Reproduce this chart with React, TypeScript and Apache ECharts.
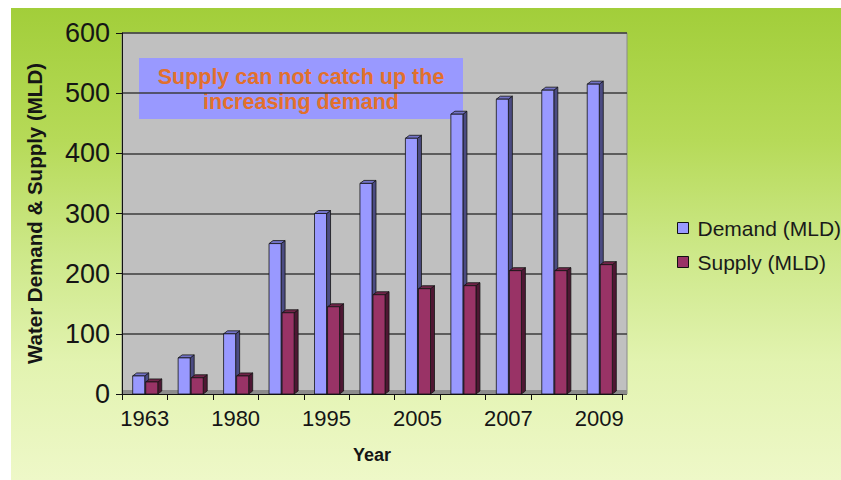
import React, { useEffect, useRef } from "react";
import * as echarts from "echarts";

// Years on the category axis (every other one is labelled)
const years = ["1963", "1971", "1980", "1991", "1995", "2001", "2005", "2006", "2007", "2008", "2009"];
// Water demand and supply, million litres per day
const demand = [30, 60, 100, 250, 300, 350, 425, 465, 490, 505, 515];
const supply = [20, 27, 30, 135, 145, 165, 175, 180, 205, 205, 215];
const yTicks = { min: 0, max: 600, interval: 100 };

const FONT = "'Liberation Sans', Arial, Helvetica, sans-serif";

type BarColors = { front: string; side: string; top: string };
const demandColors: BarColors = { front: "#9999ff", side: "#4b4b82", top: "#7373c8" };
const supplyColors: BarColors = { front: "#993366", side: "#4e1733", top: "#6f2448" };

// Draws a bar with a shaded right side and top face, offset left (0) or right (1) of the category centre.
function bar3d(slot: number, c: BarColors) {
  return (_params: any, api: any) => {
    const idx = api.value(0);
    const val = api.value(1);
    const top = api.coord([idx, val]);
    const base = api.coord([idx, 0]);
    const band = api.size([1, 0])[0];
    const w = band * 0.265;
    const x0 = slot === 0 ? top[0] - w : top[0] + 1;
    const x1 = x0 + w;
    const dx = 4;
    const dy = -3;
    const ty = top[1];
    const by = base[1];
    const stroke = "#141414";
    return {
      type: "group",
      children: [
        {
          type: "polygon",
          shape: { points: [[x1, ty], [x1 + dx, ty + dy], [x1 + dx, by + dy], [x1, by]] },
          style: { fill: c.side, stroke, lineWidth: 0.8 },
        },
        {
          type: "polygon",
          shape: { points: [[x0, ty], [x0 + dx, ty + dy], [x1 + dx, ty + dy], [x1, ty]] },
          style: { fill: c.top, stroke, lineWidth: 0.8 },
        },
        {
          type: "rect",
          shape: { x: x0, y: ty, width: w, height: by - ty },
          style: { fill: c.front, stroke, lineWidth: 0.8 },
        },
      ],
    };
  };
}

export default function App() {
  const ref = useRef<HTMLDivElement>(null);

  useEffect(() => {
    if (!ref.current) return;
    const chart = echarts.init(ref.current, null, { renderer: "svg" });

    chart.setOption({
      animation: false,
      textStyle: { fontFamily: FONT },
      grid: [
        { left: 122, top: 33, width: 500, height: 361, containLabel: false },
        {
          left: 122,
          top: 33,
          width: 505,
          height: 361,
          show: true,
          backgroundColor: "#c0c0c0",
          borderColor: "#8a8a8a",
          borderWidth: 1,
          z: -1,
        },
      ],
      xAxis: [
        {
          type: "category",
          gridIndex: 0,
          data: years,
          boundaryGap: true,
          axisLine: { show: true, lineStyle: { color: "#111", width: 1 } },
          axisTick: { show: true, interval: 0, length: 6, lineStyle: { color: "#111" } },
          axisLabel: { interval: 1, fontSize: 22, color: "#151515", margin: 13, fontFamily: FONT },
          name: "Year",
          nameLocation: "middle",
          nameGap: 52,
          nameTextStyle: { fontSize: 18, fontWeight: "bold", color: "#151515", fontFamily: FONT },
          z: 5,
        },
        { type: "value", gridIndex: 1, show: false, min: 0, max: 1 },
      ],
      yAxis: [
        {
          type: "value",
          gridIndex: 0,
          ...yTicks,
          axisLine: { show: true, lineStyle: { color: "#111", width: 1 } },
          axisTick: { show: true, length: 6, lineStyle: { color: "#111" } },
          axisLabel: { fontSize: 27, color: "#151515", margin: 12, fontFamily: FONT },
          splitLine: { show: false },
          name: "Water Demand & Supply (MLD)",
          nameLocation: "middle",
          nameRotate: 90,
          nameGap: 77,
          nameTextStyle: { fontSize: 20.5, fontWeight: "bold", color: "#151515", fontFamily: FONT },
          z: 5,
        },
        {
          type: "value",
          gridIndex: 1,
          ...yTicks,
          axisLine: { show: false },
          axisTick: { show: false },
          axisLabel: { show: false },
          splitLine: { show: true, lineStyle: { color: "#3c3c3c", width: 1.5 } },
        },
      ],
      legend: {
        orient: "vertical",
        left: 672,
        top: 212,
        icon: "rect",
        itemWidth: 11,
        itemHeight: 11,
        itemGap: 12,
        textStyle: {
          fontSize: 21,
          color: "#1a1a1a",
          fontFamily: FONT,
          lineHeight: 22,
          padding: [0, 0, 0, 4],
        },
        itemStyle: { borderColor: "#111", borderWidth: 1 },
        data: [
          { name: "Demand (MLD)", itemStyle: { color: demandColors.front } },
          { name: "Supply (MLD)", itemStyle: { color: supplyColors.front } },
        ],
      },
      graphic: [
        {
          type: "rect",
          z: 1,
          shape: { x: 122, y: 390, width: 505, height: 4 },
          style: { fill: "#8c8c8c" },
          silent: true,
        },
        {
          type: "group",
          z: 20,
          children: [
            {
              type: "rect",
              shape: { x: 139, y: 58, width: 324, height: 61 },
              style: { fill: "#9999ff" },
            },
            {
              type: "text",
              x: 301,
              y: 89.5,
              style: {
                text: "Supply can not catch up the\nincreasing demand",
                fill: "#e2702c",
                fontSize: 21.5,
                fontWeight: "bold",
                fontFamily: FONT,
                align: "center",
                verticalAlign: "middle",
                lineHeight: 25,
              },
            },
          ],
        },
      ],
      series: [
        {
          name: "Demand (MLD)",
          type: "custom",
          xAxisIndex: 0,
          yAxisIndex: 0,
          itemStyle: { color: demandColors.front },
          encode: { x: 0, y: 1 },
          data: demand.map((v, i) => [i, v]),
          renderItem: bar3d(0, demandColors),
          z: 3,
        },
        {
          name: "Supply (MLD)",
          type: "custom",
          xAxisIndex: 0,
          yAxisIndex: 0,
          itemStyle: { color: supplyColors.front },
          encode: { x: 0, y: 1 },
          data: supply.map((v, i) => [i, v]),
          renderItem: bar3d(1, supplyColors),
          z: 3,
        },
      ],
    });

    return () => chart.dispose();
  }, []);

  return (
    <div
      ref={ref}
      style={{
        position: "fixed",
        left: 0,
        top: 0,
        width: 841,
        height: 480,
        background:
          "linear-gradient(180deg, #a2ce3a 0%, #b6da58 28%, #cde889 52%, #e2f3b0 75%, #eef8c8 100%) 11px 8px / 830px 472px no-repeat, #ffffff",
      }}
    />
  );
}
